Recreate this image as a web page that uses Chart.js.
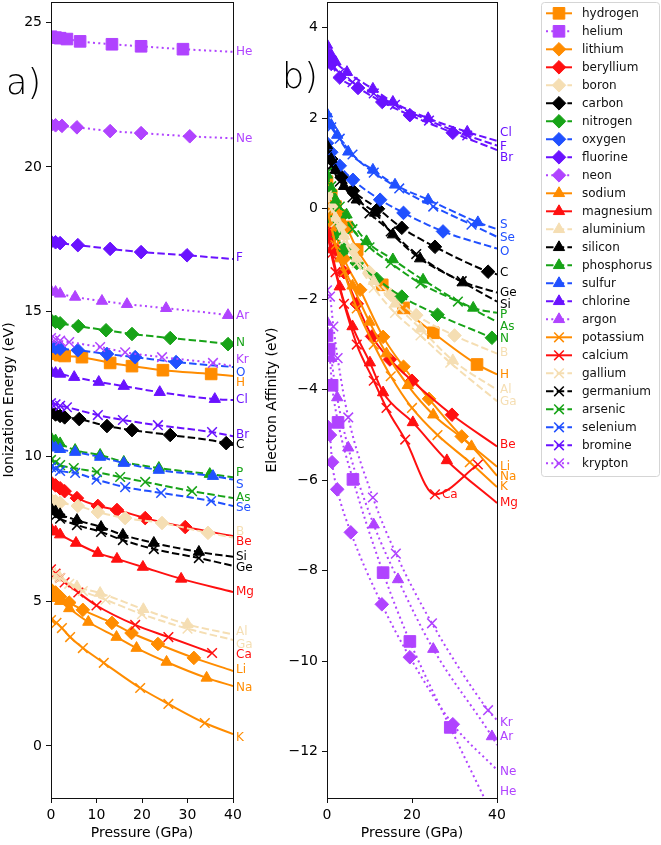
<!DOCTYPE html>
<html>
<head>
<meta charset="utf-8">
<script src="https://cdn.jsdelivr.net/npm/chart.js@4.4.0/dist/chart.umd.min.js"></script>
<style>
  body { margin: 0; background: #fff; width: 661px; height: 845px; position: relative; overflow: hidden; }
  canvas { position: absolute; top: 0; }
  #ie-chart { left: 0; }
  #ea-chart { left: 255px; }
</style>
</head>
<body>
<canvas id="ie-chart" width="255" height="845"></canvas>
<canvas id="ea-chart" width="406" height="845"></canvas>
<script>
const elements = ['hydrogen', 'helium', 'lithium', 'beryllium', 'boron', 'carbon', 'nitrogen', 'oxygen',
  'fluorine', 'neon', 'sodium', 'magnesium', 'aluminium', 'silicon', 'phosphorus', 'sulfur', 'chlorine',
  'argon', 'potassium', 'calcium', 'gallium', 'germanium', 'arsenic', 'selenium', 'bromine', 'krypton'];
const symbols = ['H', 'He', 'Li', 'Be', 'B', 'C', 'N', 'O', 'F', 'Ne', 'Na', 'Mg', 'Al', 'Si', 'P', 'S', 'Cl',
  'Ar', 'K', 'Ca', 'Ga', 'Ge', 'As', 'Se', 'Br', 'Kr'];
const groups = ['alk', 'nob', 'alk', 'ae', 'b', 'c', 'n', 'o', 'f', 'nob', 'alk', 'ae', 'b', 'c', 'n', 'o', 'f',
  'nob', 'alk', 'ae', 'b', 'c', 'n', 'o', 'f', 'nob'];

// ionization energy (eV) against pressure (GPa), [P, E]
const ieH  = [[0,13.6],[1,13.55],[2,13.5],[3,13.47],[6.8,13.43],[13,13.23],[17.8,13.12],[24.6,12.98],[35.2,12.85],[40,12.78]];
const ieHe = [[0,24.5],[1,24.47],[2,24.45],[3.5,24.42],[6.4,24.34],[13.4,24.24],[19.8,24.17],[29,24.07],[40,23.98]];
const ieLi = [[0,5.4],[1,5.3],[2,5.15],[4,4.95],[7,4.7],[13.4,4.25],[17.7,3.9],[23.5,3.52],[31.4,3.04],[40,2.59]];
const ieBe = [[0,9.1],[1,9.0],[2,8.9],[3,8.8],[5.7,8.56],[10.3,8.29],[14.5,8.15],[20.7,7.87],[29.5,7.56],[40,7.25]];
const ieB  = [[0,8.5],[1,8.45],[2,8.4],[5.9,8.29],[10.3,8.08],[16.3,7.87],[24.4,7.7],[34.5,7.36],[40,7.2]];
const ieC  = [[0,11.5],[1,11.45],[2,11.4],[3,11.35],[6.2,11.29],[12.3,11.05],[17.8,10.91],[26.2,10.74],[38.5,10.46],[40,10.39]];
const ieN  = [[0,14.7],[1,14.65],[2,14.6],[6,14.5],[12.1,14.36],[17.8,14.23],[26.2,14.09],[38.9,13.88],[40,13.85]];
const ieO  = [[0,13.78],[1,13.75],[2,13.72],[5.9,13.67],[12.3,13.54],[18.5,13.43],[27.5,13.26],[40,13.09]];
const ieF  = [[0,17.42],[1,17.4],[2,17.37],[5.9,17.3],[13,17.17],[19.8,17.06],[29.9,16.95],[40,16.82]];
const ieNe = [[0,21.45],[1,21.44],[2.4,21.42],[5.7,21.37],[13,21.24],[19.8,21.17],[30.5,21.06],[40,20.99]];
const ieNa = [[0,5.2],[1,5.1],[2,5.0],[4,4.75],[8.2,4.28],[14.4,3.76],[18.8,3.38],[25.4,2.9],[34.2,2.35],[40,2.07]];
const ieMg = [[0,7.5],[1,7.4],[2,7.3],[5.5,7.01],[10.3,6.66],[14.5,6.46],[20.2,6.18],[28.6,5.77],[40,5.32]];
const ieAl = [[0,5.95],[1,5.88],[2,5.8],[5.7,5.5],[10.8,5.28],[20.3,4.72],[30,4.2],[40,3.85]];
const ieSi = [[0,8.2],[1,8.1],[2,8.0],[5.7,7.8],[11,7.56],[15.8,7.29],[22.6,7.01],[32.5,6.7],[40,6.53]];
const ieP  = [[0,10.64],[1,10.55],[2,10.45],[5.3,10.22],[10.8,10.05],[16,9.81],[23.7,9.6],[34.9,9.39],[40,9.28]];
const ieS  = [[0,10.39],[1,10.3],[2,10.25],[5.3,10.15],[10.8,9.98],[16,9.77],[23.7,9.53],[35.6,9.32],[40,9.2]];
const ieCl = [[0,12.92],[1,12.88],[2,12.85],[5.1,12.74],[10.5,12.57],[16,12.43],[23.9,12.22],[36,11.98],[40,11.95]];
const ieAr = [[0,15.72],[1,15.68],[2,15.62],[5.3,15.51],[11.2,15.37],[16.7,15.26],[25.3,15.12],[38.9,14.88],[40,14.85]];
const ieK  = [[0,4.35],[1.2,4.25],[2.4,4.07],[4.2,3.76],[7,3.38],[11.6,2.87],[19.6,2.0],[25.8,1.45],[33.8,0.79],[40,0.41]];
const ieCa = [[0,6.1],[1,5.95],[2,5.8],[3,5.65],[6,5.3],[10,4.85],[18.5,4.18],[25.8,3.76],[35.4,3.21]];
const ieGa = [[0,6.0],[1,5.9],[2,5.8],[4,5.6],[7,5.35],[12,5.05],[20,4.55],[30,4.05],[40,3.66]];
const ieGe = [[0,8.08],[1,7.95],[2,7.85],[5.7,7.63],[11,7.39],[15.8,7.11],[22.6,6.8],[32.5,6.49],[40,6.22]];
const ieAs = [[0,9.88],[1,9.8],[2,9.7],[5,9.6],[10.1,9.46],[15.2,9.29],[20.7,9.12],[31,8.8],[40,8.56]];
const ieSe = [[0,9.63],[1,9.58],[2,9.5],[5.3,9.43],[10,9.2],[16.3,8.94],[24.2,8.74],[35.2,8.46],[40,8.29]];
const ieBr = [[0,11.84],[1,11.8],[2,11.75],[3.5,11.7],[10.3,11.43],[15.8,11.26],[23.5,11.08],[35.4,10.84],[40,10.7]];
const ieKr = [[0,14.09],[1,14.05],[2,14.0],[4,13.95],[10.8,13.78],[16.3,13.6],[24.4,13.43],[35.6,13.23],[40,13.12]];

// electron affinity (eV) against pressure (GPa), [P, E]
const eaH  = [[0,0.6],[1,0.3],[2,0.05],[3,-0.15],[4.6,-0.4],[7.1,-0.9],[13,-1.68],[18,-2.19],[25,-2.74],[35.3,-3.44],[40,-3.66]];
const eaHe = [[0,-2.8],[0.5,-3.1],[1.2,-3.9],[2.6,-4.72],[6.1,-5.98],[13.2,-8.04],[19.5,-9.56],[29,-11.46],[40,-13.6]];
const eaLi = [[0,0.2],[1,-0.2],[2,-0.55],[4,-1.1],[7.8,-1.79],[13.2,-2.83],[18,-3.49],[24,-4.2],[31.7,-5.03],[40,-5.7]];
const eaBe = [[0,-0.3],[1,-0.6],[2,-0.9],[4,-1.4],[7,-2.1],[10.6,-2.82],[14.8,-3.33],[20,-3.8],[29.4,-4.55],[40,-5.25]];
const eaB  = [[0,0.3],[1,0.05],[3,-0.4],[6,-0.9],[10,-1.4],[15,-1.9],[21,-2.35],[30,-2.8],[40,-3.2]];
const eaC  = [[0,1.3],[1,1.1],[2,0.9],[3.5,0.7],[6.1,0.4],[12,0.0],[17.6,-0.42],[25.4,-0.84],[37.9,-1.39],[40,-1.45]];
const eaN  = [[0,0.0],[1,-0.3],[2,-0.55],[4,-0.9],[7,-1.2],[11.7,-1.55],[17.6,-1.94],[26,-2.34],[38.8,-2.85],[40,-2.9]];
const eaO  = [[0,1.45],[1,1.25],[3,0.95],[6.1,0.64],[12.5,0.2],[18,-0.09],[27.3,-0.5],[40,-0.88]];
const eaF  = [[0,3.4],[1,3.2],[3,2.9],[7.3,2.67],[13,2.36],[19.5,2.07],[29.6,1.68],[40,1.3]];
const eaNe = [[0,-4.8],[0.7,-5.0],[1.2,-5.6],[2.4,-6.2],[5.6,-7.15],[12.9,-8.74],[19.5,-9.91],[29.6,-11.39],[40,-12.4]];
const eaNa = [[0,0.0],[1,-0.4],[3,-1.1],[6,-1.7],[10,-2.5],[14,-3.2],[19,-3.9],[25,-4.55],[34,-5.25],[40,-5.9]];
const eaMg = [[0,-0.5],[1,-0.9],[3,-1.72],[6,-2.6],[10.1,-3.4],[13.2,-4.06],[20.2,-4.72],[28.2,-5.56],[40,-6.5]];
const eaAl = [[0,0.4],[1,0.1],[2,-0.2],[4,-0.6],[7,-1.1],[11,-1.6],[16,-2.1],[22,-2.65],[29.6,-3.35],[40,-4.0]];
const eaSi = [[0,1.4],[1,1.1],[2,0.85],[4,0.5],[7,0.2],[11.3,-0.09],[15.5,-0.57],[21.9,-1.1],[32,-1.63],[40,-2.05]];
const eaP  = [[0,0.75],[1,0.45],[2,0.2],[4.6,-0.13],[9.3,-0.72],[15.5,-1.12],[22.6,-1.57],[34.4,-2.19],[40,-2.3]];
const eaS  = [[0,2.1],[1,1.85],[2.4,1.63],[5,1.26],[10.8,0.86],[16,0.53],[23.8,0.2],[35.5,-0.3],[40,-0.45]];
const eaCl = [[0,3.62],[1,3.4],[2,3.25],[4.7,3.02],[10.8,2.65],[15.5,2.36],[23.8,2.0],[33,1.7],[40,1.5]];
const eaAr = [[0,-2.5],[1,-3.3],[2.4,-4.17],[5,-5.28],[11,-6.98],[16.7,-8.19],[25,-9.73],[38.8,-11.66],[40,-11.85]];
const eaK  = [[0,0.1],[1,-0.4],[2,-0.8],[4,-1.4],[7,-2.2],[11,-3.0],[15,-3.7],[20,-4.4],[26,-5.0],[33.6,-5.6],[40,-6.15]];
const eaCa = [[0,-0.5],[1,-1.0],[2,-1.4],[4,-2.1],[7,-3.0],[11,-3.8],[14,-4.4],[18.4,-5.1],[25.4,-6.31],[35.5,-5.65]];
const eaGa = [[0,0.3],[1,0.0],[2,-0.3],[4,-0.7],[7,-1.2],[11,-1.75],[16,-2.3],[22,-2.8],[29,-3.4],[40,-4.25]];
const eaGe = [[0,1.2],[1,0.95],[3,0.6],[6,0.25],[10,-0.1],[15,-0.5],[21,-1.0],[31.7,-1.6],[40,-1.85]];
const eaAs = [[0,0.8],[1,0.5],[3,0.05],[6,-0.45],[10,-0.85],[15,-1.2],[22,-1.65],[30.8,-2.05],[40,-2.5]];
const eaSe = [[0,2.0],[1,1.8],[3,1.55],[6,1.2],[11,0.8],[17,0.45],[25,0.05],[34,-0.35],[40,-0.62]];
const eaBr = [[0,3.37],[1,3.2],[3,3.0],[6,2.8],[11,2.55],[16,2.3],[24,1.95],[33,1.62],[40,1.4]];
const eaKr = [[0,-1.8],[0.7,-1.94],[1.5,-2.6],[2.5,-3.3],[5,-4.61],[10.8,-6.38],[16.2,-7.62],[24.7,-9.16],[37.9,-11.08],[40,-11.3]];

const ieSeries = [ieH, ieHe, ieLi, ieBe, ieB, ieC, ieN, ieO, ieF, ieNe, ieNa, ieMg, ieAl, ieSi, ieP, ieS, ieCl,
  ieAr, ieK, ieCa, ieGa, ieGe, ieAs, ieSe, ieBr, ieKr];
const eaSeries = [eaH, eaHe, eaLi, eaBe, eaB, eaC, eaN, eaO, eaF, eaNe, eaNa, eaMg, eaAl, eaSi, eaP, eaS, eaCl,
  eaAr, eaK, eaCa, eaGa, eaGe, eaAs, eaSe, eaBr, eaKr];

// where each symbol sits on the right edge (eV); null = placed beside its curve
const ieLabelAt = [12.53, 23.96, 2.62, 7.04, 7.39, 10.39, 13.92, 12.88, 16.85, 20.96, 2.0, 5.32, 3.94, 6.53,
  9.43, 9.01, 11.95, 14.85, 0.28, 3.14, 3.49, 6.15, 8.56, 8.22, 10.74, 13.33];
const eaLabelAt = [-3.66, -12.89, -5.7, -5.21, -3.18, -1.41, -2.87, -0.95, 1.37, -12.45, -5.92, -6.49, -4.0,
  -2.12, -2.34, -0.35, 1.68, -11.68, -6.14, null, -4.26, -1.85, -2.6, -0.64, 1.13, -11.35];

const ieTicks = [0, 5, 10, 15, 20, 25];
const eaTicks = [-12, -10, -8, -6, -4, -2, 0, 2, 4];
const ieXTicks = [0, 10, 20, 30, 40];
const eaXTicks = [0, 20, 40];

const groupColor = { alk: '#ff8c00', ae: '#ff1010', b: '#f5deb3', c: '#000000', n: '#17a317',
  o: '#2050ff', f: '#6a12ff', nob: '#b043ff' };
const FONT = '"DejaVu Sans", "Liberation Sans", sans-serif';

const colorOf = i => groupColor[groups[i]];
const periodOf = i => i < 2 ? 0 : i < 10 ? 1 : i < 18 ? 2 : 3;
const markerOf = i => ['rect', 'rectRot', 'triangle', 'crossRot'][periodOf(i)];
const radiusOf = i => [8.2, 6.8, 6.5, 6.8][periodOf(i)];
const dashOf = i => {
  const g = groups[i];
  if (g === 'alk' || g === 'ae') return [];
  if (g === 'nob') return [2, 3.3];
  return [7.5, 3.2];
};

const buildDatasets = series => series.map((pts, i) => ({
  label: elements[i],
  data: pts.map(([x, y]) => ({ x, y })),
  borderColor: colorOf(i),
  backgroundColor: colorOf(i),
  borderWidth: 2,
  borderDash: dashOf(i),
  cubicInterpolationMode: 'monotone',
  pointStyle: markerOf(i),
  pointRadius: ctx => (ctx.raw && ctx.raw.x === 40 ? 0 : radiusOf(i)),
  pointHoverRadius: 0,
  pointBorderWidth: periodOf(i) === 3 ? 1.5 : 1,
  pointBackgroundColor: colorOf(i),
  pointBorderColor: colorOf(i),
  order: -i,
}));

const drawMarker = (ctx, style, r, x, y, color, bw) => {
  if (Chart.helpers && Chart.helpers.drawPoint) {
    ctx.fillStyle = color; ctx.strokeStyle = color; ctx.lineWidth = bw;
    ctx.setLineDash([]);
    Chart.helpers.drawPoint(ctx, { pointStyle: style, radius: r, borderWidth: bw, rotation: 0 }, x, y);
  }
};

const sidePlugin = {
  id: 'sideText',
  afterDraw(chart, args, opts) {
    const { ctx, chartArea: a, scales } = chart;
    ctx.save();
    // frame
    ctx.strokeStyle = '#111';
    ctx.lineWidth = 1;
    ctx.setLineDash([]);
    ctx.strokeRect(a.left + 0.5, a.top + 0.5, a.right - a.left, a.bottom - a.top);
    // symbols
    ctx.font = '12px ' + FONT;
    ctx.textBaseline = 'middle';
    ctx.textAlign = 'left';
    opts.labelAt.forEach((v, i) => {
      ctx.fillStyle = colorOf(i);
      if (v === null) {
        const pts = opts.series[i];
        const low = pts.reduce((m, p) => (p[1] < m[1] ? p : m), pts[0]);
        ctx.fillText(symbols[i], scales.x.getPixelForValue(low[0]) + 7, scales.y.getPixelForValue(low[1]) + 1);
      } else {
        ctx.fillText(symbols[i], a.right + 3, scales.y.getPixelForValue(v));
      }
    });
    // panel tag
    ctx.fillStyle = '#000';
    ctx.font = '300 35px ' + FONT;
    ctx.textBaseline = 'alphabetic';
    ctx.fillText(opts.tag, opts.tagX, opts.tagY);
    ctx.restore();
  }
};

const legendPlugin = {
  id: 'boxLegend',
  afterDraw(chart, args, opts) {
    if (!opts.show) return;
    const { ctx } = chart;
    const x0 = 286.5, y0 = 2.5, w = 118, h = 474, rowH = 18, top = 13.3;
    ctx.save();
    ctx.strokeStyle = '#d5d5d5';
    ctx.lineWidth = 1;
    ctx.beginPath();
    ctx.roundRect(x0, y0, w, h, 3);
    ctx.stroke();
    chart.data.datasets.forEach((ds, i) => {
      const y = top + i * rowH;
      ctx.strokeStyle = ds.borderColor;
      ctx.lineWidth = 2;
      ctx.setLineDash(ds.borderDash);
      ctx.beginPath();
      ctx.moveTo(291, y);
      ctx.lineTo(317, y);
      ctx.stroke();
      drawMarker(ctx, ds.pointStyle, radiusOf(i), 304, y, ds.borderColor, ds.pointBorderWidth);
      ctx.fillStyle = '#111';
      ctx.font = '12px ' + FONT;
      ctx.textBaseline = 'middle';
      ctx.fillText(ds.label, 327, y + 1);
    });
    ctx.restore();
  }
};

const axisBase = (min, max, ticks, fit, fmt) => ({
  type: 'linear', min, max,
  afterBuildTicks: s => { s.ticks = ticks.map(value => ({ value })); },
  afterFit: s => {
    fit(s);
    s.paddingTop = 0; s.paddingBottom = 0; s.paddingLeft = 0; s.paddingRight = 0;
  },
  grid: { drawOnChartArea: false, drawTicks: true, tickLength: 5, color: '#111', tickWidth: 1 },
  border: { display: true, color: '#111', width: 1 },
  ticks: { font: { size: 14, family: FONT }, color: '#000', padding: 4, autoSkip: false, maxRotation: 0,
    callback: fmt },
});
const minusFmt = v => (v < 0 ? '\u2212' + Math.abs(v) : String(v));

const makeChart = (id, series, o) => new Chart(document.getElementById(id), {
  type: 'line',
  data: { datasets: buildDatasets(series) },
  options: {
    responsive: false,
    animation: false,
    events: [],
    layout: { autoPadding: false, padding: { left: 0, top: 2, right: o.padRight, bottom: 0 } },
    scales: {
      x: Object.assign(axisBase(0, 40, o.xTicks, s => { s.height = 47; }, v => String(v)), {
        title: { display: true, text: 'Pressure (GPa)', color: '#000', font: { size: 14, family: FONT },
          padding: { top: 0, bottom: 3 } },
      }),
      y: Object.assign(axisBase(o.yMin, o.yMax, o.yTicks, s => { s.width = o.yWidth; }, minusFmt), {
        title: { display: true, text: o.yTitle, color: '#000', font: { size: 14, family: FONT },
          padding: { top: o.titlePad, bottom: 0 } },
      }),
    },
    plugins: {
      legend: { display: false },
      tooltip: { enabled: false },
      sideText: { labelAt: o.labelAt, series, tag: o.tag, tagX: o.tagX, tagY: o.tagY },
      boxLegend: { show: o.legend },
    },
  },
  plugins: [sidePlugin, legendPlugin],
});

makeChart('ie-chart', ieSeries, {
  padRight: 22, yWidth: 51, yMin: -1.8, yMax: 25.7, yTicks: ieTicks, xTicks: ieXTicks,
  yTitle: 'Ionization Energy (eV)', titlePad: 1, labelAt: ieLabelAt, tag: 'a)', tagX: 6, tagY: 94, legend: false,
});
makeChart('ea-chart', eaSeries, {
  padRight: 164, yWidth: 72, yMin: -13.02, yMax: 4.57, yTicks: eaTicks, xTicks: eaXTicks,
  yTitle: 'Electron Affinity (eV)', titlePad: 8.6, labelAt: eaLabelAt, tag: 'b)', tagX: 27, tagY: 88, legend: true,
});
</script>
</body>
</html>
